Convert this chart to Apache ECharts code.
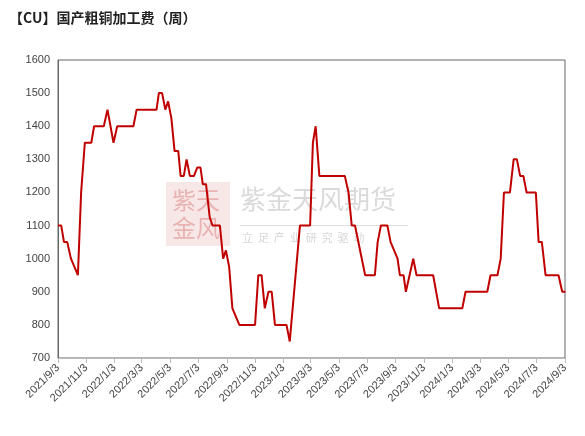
<!DOCTYPE html>
<html><head><meta charset="utf-8">
<script src="https://cdn.jsdelivr.net/npm/echarts@6/dist/echarts.min.js"></script>
<style>html,body{margin:0;padding:0;background:#fff}#c{width:585px;height:436px}</style>
</head><body><div id="c"></div>
<script>
// days since 2021/9/3 and fee values (元/吨)
var dayOffsets = [0,7,13,20,28,43,50,58,72,78,99,107,120,128,163,170,213,218,225,232,238,245,252,260,265,272,278,285,294,301,308,313,320,328,334,350,357,363,370,377,392,426,433,440,447,455,462,469,494,501,523,545,551,557,565,620,628,635,642,664,685,691,698,712,719,734,739,747,752,768,775,811,824,874,881,928,935,950,957,964,977,985,992,999,1006,1013,1033,1039,1046,1054,1082,1090,1097];
var fees = [1100,1100,1050,1050,1000,950,1200,1350,1350,1400,1400,1450,1350,1400,1400,1450,1450,1500,1500,1450,1475,1425,1325,1325,1250,1250,1300,1250,1250,1275,1275,1225,1225,1125,1100,1100,1000,1025,975,850,800,800,950,950,850,900,900,800,800,750,1100,1100,1350,1400,1250,1250,1200,1100,1100,950,950,1050,1100,1100,1050,1000,950,950,900,1000,950,950,850,850,900,900,950,950,1000,1200,1200,1300,1300,1250,1250,1200,1200,1050,1050,950,950,900,900];
var tickDates = ['2021/9/3','2021/11/3','2022/1/3','2022/3/3','2022/5/3','2022/7/3','2022/9/3','2022/11/3','2023/1/3','2023/3/3','2023/5/3','2023/7/3','2023/9/3','2023/11/3','2024/1/3','2024/3/3','2024/5/3','2024/7/3','2024/9/3'];

var start = Date.UTC(2021, 8, 3);
function toDay(s) { var p = s.split('/'); return Math.round((Date.UTC(+p[0], p[1] - 1, +p[2]) - start) / 86400000); }
var tickDays = tickDates.map(toDay);
var labelOf = {};
tickDays.forEach(function (d, i) { labelOf[d] = tickDates[i]; });

var chart = echarts.init(document.getElementById('c'));
chart.setOption({
  animation: false,
  title: { text: '【CU】国产粗铜加工费（周）', left: 4, top: 6,
    textStyle: { fontSize: 14, fontWeight: 'bold', color: '#222', fontFamily: 'Noto Sans CJK SC' } },
  grid: { left: 58, right: 20, top: 60, bottom: 78, show: true, borderColor: '#666', borderWidth: 1 },
  graphic: [
    { type: 'rect', left: 166, top: 182, shape: { width: 64, height: 64 }, style: { fill: 'rgba(200,60,60,0.12)' } },
    { type: 'text', left: 172, top: 186, style: { text: '紫天\n金风', fontSize: 24, lineHeight: 28, fill: 'rgba(200,60,60,0.3)', fontFamily: 'Noto Sans CJK SC' } },
    { type: 'text', left: 240, top: 186, style: { text: '紫金天风期货', fontSize: 26, fill: 'rgba(150,150,150,0.35)', fontFamily: 'Noto Sans CJK SC' } },
    { type: 'rect', left: 240, top: 225, shape: { width: 168, height: 1 }, style: { fill: 'rgba(150,150,150,0.3)' } },
    { type: 'text', left: 242, top: 232, style: { text: '立  足  产  业  研  究  驱  动', fontSize: 11, fill: 'rgba(150,150,150,0.4)', fontFamily: 'Noto Sans CJK SC' } }
  ],
  xAxis: {
    type: 'value', min: 0, max: tickDays[tickDays.length - 1],
    splitLine: { show: false },
    axisLine: { lineStyle: { color: '#bbb' } },
    axisTick: { show: true, customValues: tickDays, lineStyle: { color: '#bbb' } },
    axisLabel: { customValues: tickDays, rotate: 45, color: '#444', fontSize: 11,
      formatter: function (v) { return labelOf[v] || ''; } }
  },
  yAxis: {
    type: 'value', min: 700, max: 1600, interval: 100,
    splitLine: { show: false },
    axisLine: { show: true, lineStyle: { color: '#666' } },
    axisTick: { show: false },
    axisLabel: { color: '#444', fontSize: 11, formatter: function (v) { return String(v); } }
  },
  series: [{
    type: 'line', showSymbol: false,
    data: dayOffsets.map(function (d, i) { return [d, fees[i]]; }),
    lineStyle: { color: '#c00000', width: 2 }, itemStyle: { color: '#c00000' }
  }]
});
</script></body></html>
